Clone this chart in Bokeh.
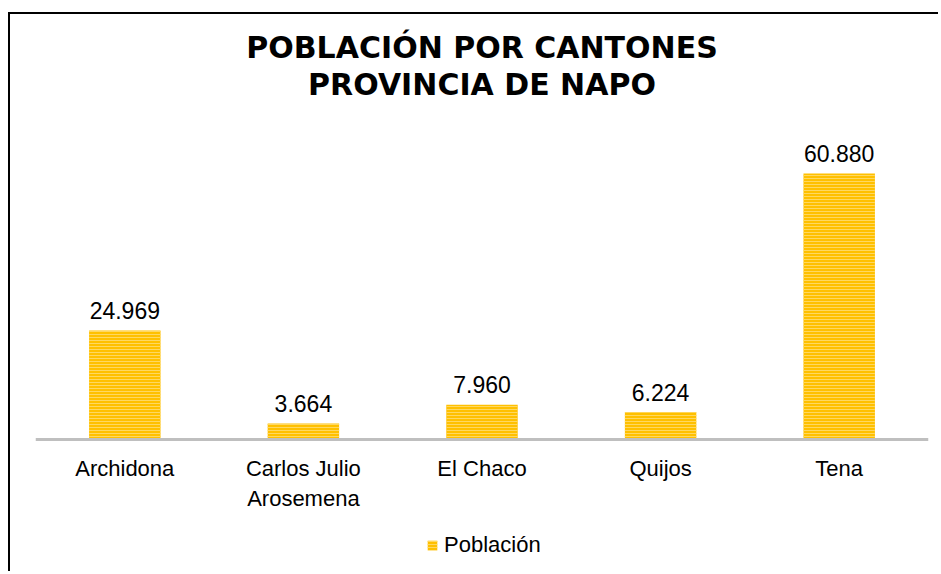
from bokeh.plotting import figure
from bokeh.models import ColumnDataSource, Legend, Range1d, Title
from bokeh.core.properties import value
from bokeh.embed import file_html
from bokeh.resources import INLINE

cantones = ["Archidona", "Carlos Julio\nArosemena", "El Chaco", "Quijos", "Tena"]
poblacion = [24969, 3664, 7960, 6224, 60880]
etiquetas = ["24.969", "3.664", "7.960", "6.224", "60.880"]
serie = "Población"
titulo_1 = "POBLACIÓN POR CANTONES"
titulo_2 = "PROVINCIA DE NAPO"

src = ColumnDataSource(dict(x=cantones, top=poblacion, lab=etiquetas))

p = figure(x_range=cantones, y_range=Range1d(-27700, 77360), width=930, height=559,
           output_backend="svg", toolbar_location=None, title=None,
           min_border_left=25, min_border_right=12, min_border_top=87, min_border_bottom=13)
p.styles = {"margin-left": "8px", "margin-top": "12px",
            "border-left": "2px solid #000", "border-top": "2px solid #000"}

for t in (titulo_2, titulo_1):
    p.add_layout(Title(text=t, text_font="DejaVu Sans", text_font_style="bold",
                       text_font_size="30px", align="center", text_color="#000000",
                       standoff=0), "above")

r = p.vbar(x="x", top="top", width=0.4, source=src, fill_color="#FFC000",
           line_color=None, hatch_pattern="horizontal_line", hatch_color="#FFD860",
           hatch_scale=3, hatch_weight=1)

p.text(x="x", y="top", text="lab", source=src, text_align="center",
       text_baseline="alphabetic", y_offset=-20, text_font=value("Liberation Sans"),
       text_font_size="23px", text_color="#000000")

p.yaxis.visible = False
p.xgrid.visible = False
p.ygrid.visible = False
p.outline_line_color = None
p.xaxis.fixed_location = 0
p.xaxis.axis_line_color = "#BFBFBF"
p.xaxis.axis_line_width = 3
p.xaxis.major_tick_line_color = None
p.xaxis.minor_tick_line_color = None
p.xaxis.major_label_standoff = 11
p.xaxis.major_label_text_font = "Liberation Sans"
p.xaxis.major_label_text_font_size = "22px"
p.xaxis.major_label_text_color = "#000000"
p.x_range.range_padding = 0

legend = Legend(items=[(serie, [r])], orientation="horizontal", location=(391, 2),
                glyph_width=12, glyph_height=12, label_text_font="Liberation Sans",
                label_text_font_size="22px", label_text_color="#000000",
                label_standoff=6, border_line_color=None,
                background_fill_alpha=0, padding=0, spacing=0, margin=0)
p.add_layout(legend, "center")

open("out.html", "w").write(file_html(p, INLINE))
